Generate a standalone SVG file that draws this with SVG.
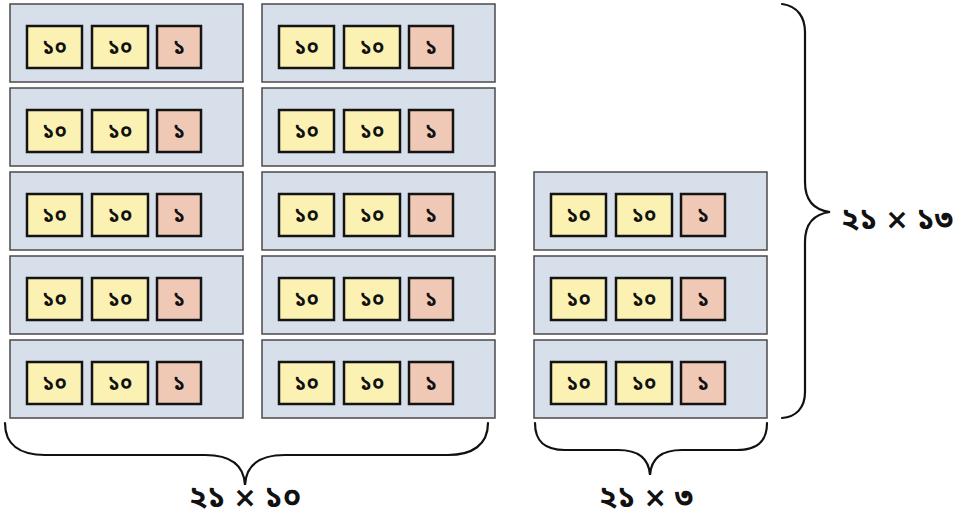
<svg xmlns="http://www.w3.org/2000/svg" xmlns:xlink="http://www.w3.org/1999/xlink" width="961" height="520" viewBox="0 0 961 520">
<style>
.row{fill:#d7e0ea;stroke:#4a4a4a;stroke-width:1.5}
.y{fill:#fbf1b3;stroke:#141414;stroke-width:2.5}
.p{fill:#efc9b6;stroke:#141414;stroke-width:2.5}
.t{font-family:"Noto Sans Bengali","Noto Serif Bengali","Lohit Bengali","Noto Sans",sans-serif;font-size:20px;font-weight:bold;fill:#111;text-anchor:middle}
.lbl{font-family:"Noto Sans Bengali","Noto Serif Bengali","Lohit Bengali","Noto Sans",sans-serif;font-size:30px;font-weight:bold;fill:#111;text-anchor:middle}
.x{font-family:"DejaVu Sans",sans-serif;font-size:28px;font-weight:bold}
.br{fill:none;stroke:#111;stroke-width:2.2;stroke-linecap:round}
</style>
<defs>
<g id="rowtpl">
<rect class="row" x="0" y="0" width="233" height="78"/>
<rect class="y" x="17" y="22" width="55" height="42"/>
<rect class="y" x="82" y="22" width="56" height="42"/>
<rect class="p" x="147" y="22" width="44" height="42"/>
<text class="t" x="44.5" y="50">১০</text>
<text class="t" x="110" y="50">১০</text>
<text class="t" x="169" y="50">১</text>
</g>
</defs>
<g id="col1">
<g id="c1r1"><use xlink:href="#rowtpl" x="10" y="4"/></g>
<g id="c1r2"><use xlink:href="#rowtpl" x="10" y="88"/></g>
<g id="c1r3"><use xlink:href="#rowtpl" x="10" y="172"/></g>
<g id="c1r4"><use xlink:href="#rowtpl" x="10" y="256"/></g>
<g id="c1r5"><use xlink:href="#rowtpl" x="10" y="340"/></g>
</g>
<g id="col2">
<g id="c2r1"><use xlink:href="#rowtpl" x="262" y="4"/></g>
<g id="c2r2"><use xlink:href="#rowtpl" x="262" y="88"/></g>
<g id="c2r3"><use xlink:href="#rowtpl" x="262" y="172"/></g>
<g id="c2r4"><use xlink:href="#rowtpl" x="262" y="256"/></g>
<g id="c2r5"><use xlink:href="#rowtpl" x="262" y="340"/></g>
</g>
<g id="col3">
<g id="c3r1"><use xlink:href="#rowtpl" x="534" y="172"/></g>
<g id="c3r2"><use xlink:href="#rowtpl" x="534" y="256"/></g>
<g id="c3r3"><use xlink:href="#rowtpl" x="534" y="340"/></g>
</g>
<g id="connectors">
<path class="br" d="M5,423 C5,445 20,455 45,455 L205,455 C232,455 244,466 245,485 C246,466 258,455 285,455 L448,455 C472,455 488,445 488,423"/>
<path class="br" d="M535,423 C535,442 545,450 565,450 L618,450 C640,450 649,460 650,475 C651,460 660,450 682,450 L737,450 C757,450 767,442 767,423"/>
<path class="br" d="M782,4 C798,6 805,18 805,32 L805,182 C805,200 814,210 830,212 C814,214 805,224 805,242 L805,392 C805,408 796,417 782,418"/>
</g>
<g id="labels">
<text class="lbl" x="245" y="507">২১ <tspan class="x">×</tspan> ১০</text>
<text class="lbl" x="646" y="507">২১ <tspan class="x">×</tspan> ৩</text>
<text class="lbl" x="897" y="229">২১ <tspan class="x">×</tspan> ১৩</text>
</g>
</svg>
